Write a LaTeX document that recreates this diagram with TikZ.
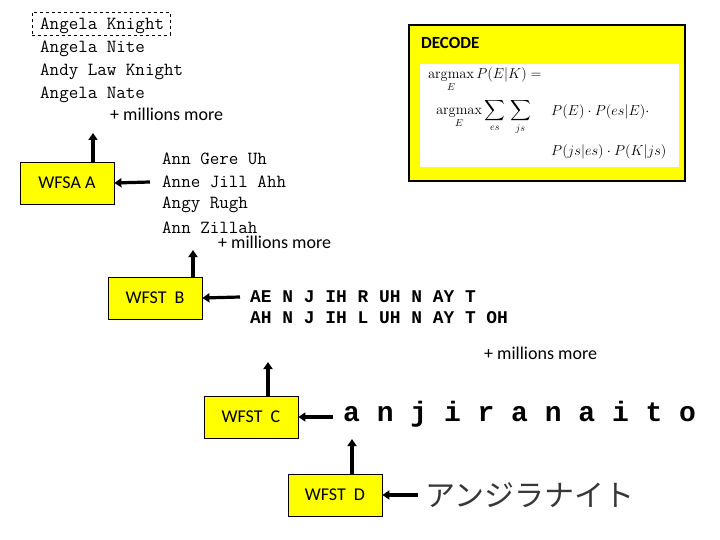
\documentclass[tikz,border=0pt]{standalone}
\usepackage{exscale}
\usepackage[no-math]{fontspec}
\setmainfont{Carlito}
\newfontfamily\cour{Liberation Mono}
\newfontfamily\jp{Noto Sans CJK JP}
\usetikzlibrary{arrows.meta}
\definecolor{yel}{RGB}{255,255,0}
\definecolor{jpgray}{RGB}{55,55,55}
\tikzset{
  wbox/.style={draw=black, line width=0.8pt, fill=yel, minimum width=94pt, minimum height=42pt, inner sep=0pt, font=\fontsize{18}{21}\selectfont},
  names/.style={anchor=west, inner sep=0pt, font=\ttfamily\fontsize{18.5}{23}\selectfont\addfontfeatures{FakeBold=0.6}, align=left},
  more/.style={anchor=west, inner sep=0pt, font=\fontsize{18}{21}\selectfont},
  phon/.style={anchor=west, inner sep=0pt, font=\cour\bfseries\fontsize{17.9}{21}\selectfont, align=left},
  mth/.style={anchor=west, inner sep=0pt, font=\fontsize{14.4}{17}\selectfont},
  arr/.style={line width=3.2pt, -{Triangle[length=7pt,width=9pt]}},
}
\begin{document}
\begin{tikzpicture}[x=1pt,y=-1pt]
\useasboundingbox (0,0) rectangle (720,540);
% decode box
\node[draw=black, line width=2pt, fill=yel, minimum width=276pt, minimum height=156pt, anchor=north west, inner sep=0pt] (decode) at (408,24) {};
\node[anchor=west, inner sep=0pt, font=\bfseries\fontsize{17}{20}\selectfont] (dtitle) at (421,43) {DECODE};
\node[fill=white, minimum width=259pt, minimum height=103pt, anchor=north west, inner sep=0pt] (mathbox) at (420,64) {};
\node[mth] (m1) at (428,80) {$\displaystyle\mathop{\mathrm{argmax}}\limits_E P(E|K) =$};
\node[mth] (m2a) at (436,117) {$\displaystyle\mathop{\mathrm{argmax}}\limits_E \sum_{es}\,\sum_{js}$};
\node[mth] (m2b) at (551,112) {$P(E)\cdot P(es|E)\cdot$};
\node[mth] (m3) at (551,152) {$P(js|es)\cdot P(K|js)$};
% first list
\node[names] (a1) at (40,26) {Angela Knight};
\node[draw=black, dashed, line width=0.7pt, minimum width=138pt, minimum height=23pt, inner sep=0pt] (sel) at (101,24) {};
\node[names] (a2) at (40,49) {Angela Nite};
\node[names] (a3) at (40,72) {Andy Law Knight};
\node[names] (a4) at (40,95) {Angela Nate};
\node[more] (am) at (110,114) {+ millions more};
% WFSA A
\node[wbox] (wa) at (67,183) {WFSA A};
\node[names] (b1) at (162,159) {Ann Gere Uh};
\node[names] (b2) at (162,182) {Anne Jill Ahh};
\node[names] (b3) at (162,205) {Angy Rugh};
\node[names] (b4) at (162,228) {Ann Zillah};
\node[more] (bm) at (218,242) {+ millions more};
\coordinate (atop) at (93,133);
\draw[arr] (wa.north -| atop) -- (atop);
\draw[arr] ([xshift=-12pt]b2.west) -- (wa.east);
% WFST B
\node[wbox] (wb) at (155,298) {WFST\hspace{0.45em}B};
\node[phon] (p1) at (250,297) {AE N J IH R UH N AY T};
\node[phon] (p2) at (250,318) {AH N J IH L UH N AY T OH};
\node[more] (pm) at (484,353) {+ millions more};
\coordinate (btop) at (193,250);
\draw[arr] (wb.north -| btop) -- (btop);
\draw[arr] ([xshift=-10pt]p1.west) -- (wb.east);
% WFST C
\node[wbox] (wc) at (251,417) {WFST\hspace{0.45em}C};
\node[anchor=west, inner sep=0pt, font=\cour\bfseries\fontsize{28}{30}\selectfont] (rom) at (343,414) {a n j i r a n a i t o};
\coordinate (ctop) at (268,362);
\draw[arr] (wc.north -| ctop) -- (ctop);
\draw[arr] ([xshift=-10pt]rom.west |- wc.east) -- (wc.east);
% WFST D
\node[wbox] (wd) at (335,495) {WFST\hspace{0.45em}D};
\node[anchor=west, inner sep=0pt, font=\jp\fontsize{30}{33}\selectfont, text=jpgray] (kana) at (425,495) {アンジラナイト};
\coordinate (dtop) at (352,439);
\draw[arr] (wd.north -| dtop) -- (dtop);
\draw[arr] ([xshift=-7pt]kana.west) -- (wd.east);
\end{tikzpicture}
\end{document}
